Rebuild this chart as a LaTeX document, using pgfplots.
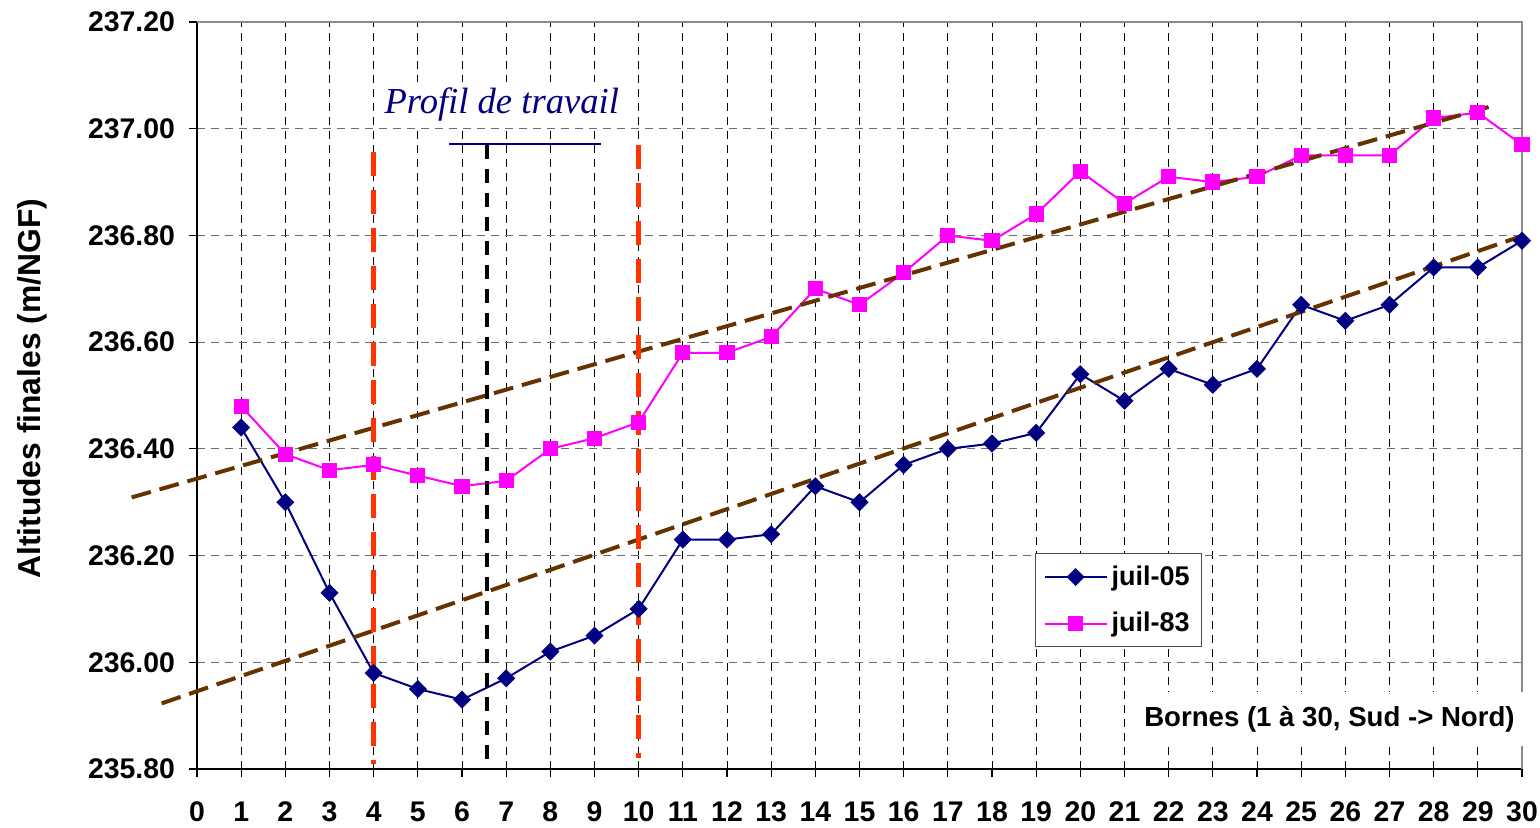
\documentclass[border=0pt]{standalone}
\usepackage{fontspec}
\setmainfont{Liberation Sans}
\newfontfamily\serifit{Liberation Serif}
\usepackage{pgfplots}
\pgfplotsset{compat=1.18}
\definecolor{navy}{RGB}{0,0,128}
\definecolor{mag}{RGB}{255,0,255}
\definecolor{trend}{RGB}{102,51,0}
\definecolor{redl}{RGB}{255,51,0}
\definecolor{gridgray}{RGB}{110,110,110}

\pgfplotstableread{
x y
1 236.44
2 236.30
3 236.13
4 235.98
5 235.95
6 235.93
7 235.97
8 236.02
9 236.05
10 236.10
11 236.23
12 236.23
13 236.24
14 236.33
15 236.30
16 236.37
17 236.40
18 236.41
19 236.43
20 236.54
21 236.49
22 236.55
23 236.52
24 236.55
25 236.67
26 236.64
27 236.67
28 236.74
29 236.74
30 236.79
}\juilzerocinq
\pgfplotstableread{
x y
1 236.48
2 236.39
3 236.36
4 236.37
5 236.35
6 236.33
7 236.34
8 236.40
9 236.42
10 236.45
11 236.58
12 236.58
13 236.61
14 236.70
15 236.67
16 236.73
17 236.80
18 236.79
19 236.84
20 236.92
21 236.86
22 236.91
23 236.90
24 236.91
25 236.95
26 236.95
27 236.95
28 237.02
29 237.03
30 236.97
}\juilquatrevingttrois

\begin{document}
\begin{tikzpicture}
\begin{axis}[
  at={(0,0)}, anchor=south west,
  scale only axis, width=662.5pt, height=373.5pt,
  xmin=0, xmax=30, ymin=235.8, ymax=237.2,
  clip=false,
  xtick={0,1,...,30},
  ytick={235.8,236.0,236.2,236.4,236.6,236.8,237.0,237.2},
  yticklabels={235.80,236.00,236.20,236.40,236.60,236.80,237.00,237.20},
  axis x line*=bottom, axis y line*=left,
  axis line style={black, line width=0.9pt, -},
  tick align=outside, major tick length=4pt,
  tick style={black, line width=0.6pt},
  /pgf/number format/assume math mode=true,
  ticklabel style={font=\bfseries\fontsize{14.2}{16}\selectfont},
  yticklabel style={xshift=-3.5pt},
  xticklabel style={yshift=-9pt},
  grid=major,
  x grid style={black, line width=0.5pt, dash pattern=on 4pt off 3pt},
  y grid style={gridgray, line width=0.5pt, dash pattern=on 4pt off 3pt},
  ylabel={Altitudes finales (m/NGF)},
  ylabel style={at={(axis description cs:-0.124,0.509)}, anchor=center, font=\bfseries\fontsize{15.9}{18}\selectfont},
  legend style={at={(rel axis cs:0.6325,0.289)}, anchor=north west,
    draw=black!70, line width=0.6pt, fill=white,
    font=\bfseries\fontsize{13.5}{15}\selectfont,
    row sep=8pt, inner xsep=4pt, inner ysep=4pt},
  legend cell align=left,
  legend image code/.code={\draw[mark repeat=2, mark phase=2] plot coordinates {(0pt,0pt) (15.5pt,0pt) (31pt,0pt)};},
]
% gray top and right frame
\draw[gridgray!80, line width=1pt] (rel axis cs:0,1) -- (rel axis cs:1,1) -- (rel axis cs:1,0);

\addplot[navy, line width=1pt, mark=square*, mark size=2.7pt, mark options={rotate=45, fill=navy, draw=navy}] table[x=x,y=y] {\juilzerocinq};
\addlegendentry{juil-05}
\addplot[mag, line width=1pt, mark=square*, mark size=3.3pt, mark options={fill=mag, draw=mag}] table[x=x,y=y] {\juilquatrevingttrois};
\addlegendentry{juil-83}

% trend lines
\addplot[forget plot, trend, line width=2pt, dash pattern=on 10pt off 4.5pt] coordinates {(-1.48,236.309) (29.34,237.043)};
\addplot[forget plot, trend, line width=2pt, dash pattern=on 10pt off 4.5pt] coordinates {(-0.80,235.923) (30,236.799)};

% limits of the working profile
\addplot[forget plot, redl, line width=2.5pt, dash pattern=on 12pt off 7pt] coordinates {(4,236.956) (4,235.81)};
\addplot[forget plot, redl, line width=2.5pt, dash pattern=on 12pt off 7pt] coordinates {(10,236.97) (10,235.82)};
\addplot[forget plot, black, line width=2pt, dash pattern=on 7pt off 5pt] coordinates {(6.57,236.97) (6.57,235.80)};
\addplot[forget plot, navy, line width=1pt] coordinates {(5.705,236.971) (9.147,236.971)};

\node[fill=white, inner sep=3pt, text=navy, font=\serifit\itshape\fontsize{18.3}{20}\selectfont] at (axis cs:6.9,237.045) {Profil de travail};

\node[fill=white, anchor=east, inner xsep=5pt, inner ysep=7pt, font=\bfseries\fontsize{13.8}{15}\selectfont] at (rel axis cs:1.0023,0.067) {Bornes (1 à 30, Sud -> Nord)};
\end{axis}
\pgfresetboundingbox
\path (-98.5pt,-29pt) rectangle (671.5pt,384.5pt);
\end{tikzpicture}
\end{document}
